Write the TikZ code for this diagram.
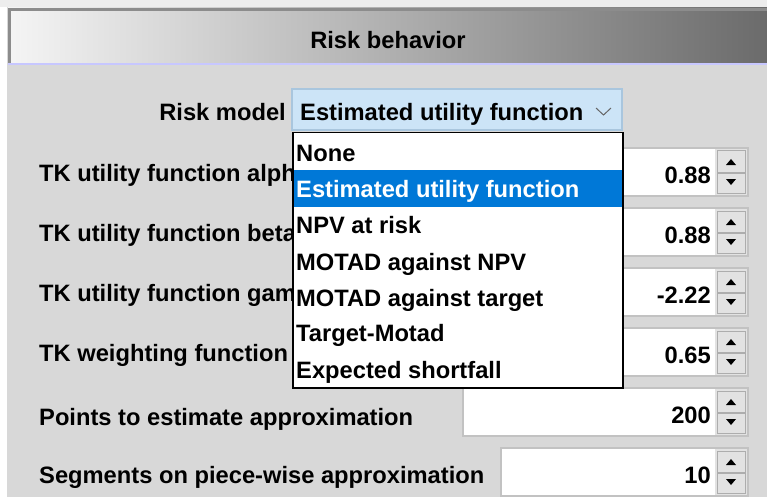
\documentclass[tikz,border=0pt]{standalone}
\usepackage{fontspec}
\setmainfont{Liberation Sans}
\usetikzlibrary{positioning}

\definecolor{panelgray}{HTML}{D8D8D8}
\definecolor{comboblue}{HTML}{CCE4F7}
\definecolor{comboedge}{HTML}{A9C6DE}
\definecolor{selblue}{HTML}{0078D7}
\definecolor{fieldedge}{HTML}{C2C2C2}
\definecolor{spingray}{HTML}{E2E2E2}
\definecolor{spinedge}{HTML}{ADADAD}
\newcommand{\uifont}{\fontsize{23.7}{28}\selectfont\bfseries}

\tikzset{
  lbl/.style={anchor=base west, inner sep=0pt, font=\uifont},
  num/.style={anchor=base east, inner sep=0pt, font=\uifont},
  item/.style={anchor=base west, inner sep=0pt, font=\uifont},
  fieldbox/.style={fill=white, draw=fieldedge, line width=1.5pt},
  spinbtn/.style={fill=spingray, draw=spinedge, line width=1pt},
}

\begin{document}
\begin{tikzpicture}[x=1pt,y=-1pt]
\useasboundingbox (0,0) rectangle (767,497);
% panel background
\fill[panelgray] (0,0) rectangle (767,497);
\fill[black!7] (0,0) rectangle (767,7);
\fill[white] (0,7) rectangle (7,497);
% header bar
\shade[left color=black!4, right color=black!58] (8,8) rectangle (767,64);
\draw[black!45, line width=3pt] (9.5,64) -- (9.5,9.5) -- (767,9.5);
\draw[blue!22, line width=2pt] (8,64) -- (767,64);
\node[anchor=base, inner sep=0pt, font=\uifont] (title) at (388,48.5) {Risk behavior};

% labels hidden behind the open list are cut at its left edge
\begin{scope}
\clip (0,140) rectangle (292,390);
\foreach \lab/\bl [count=\i] in {
    TK utility function alpha/181.5,
    TK utility function beta/241.5,
    TK utility function gamma/301.5,
    TK weighting function delta/361.5}
  \node[lbl] (lab\i) at (39,\bl) {\lab};
\end{scope}
\node[lbl] (lab5) at (39,425) {Points to estimate approximation};
\node[lbl] (lab6) at (39,483) {Segments on piece-wise approximation};

% spinner fields
\foreach \val/\yy/\xl [count=\i] in {
    0.88/148/463, 0.88/208/463, -2.22/268/463,
    0.65/328/463, 200/388/463, 10/448/501}
{
  \draw[fieldbox] (\xl,\yy) rectangle (748,\yy+48);
  \fill[spingray] (715,\yy+1) rectangle (747,\yy+47);
  \draw[spinbtn] (717,\yy+3) rectangle (745,\yy+24);
  \draw[spinbtn] (717,\yy+25) rectangle (745,\yy+45);
  \fill (726,\yy+17) -- (736,\yy+17) -- (731,\yy+11) -- cycle;
  \fill (726,\yy+31) -- (736,\yy+31) -- (731,\yy+37) -- cycle;
  \node[num] (val\i) at (711,\yy+35.5) {\val};
}

% risk model combo box
\node[anchor=base east, inner sep=0pt, font=\uifont] (model) at (286,120.5) {Risk model};
\draw[fill=comboblue, draw=comboedge, line width=1.5pt] (292,89) rectangle (622,130);
\node[item] (choice) at (300,120.5) {Estimated utility function};
\draw[black!60, line width=1pt] (596,108) -- (603.5,115) -- (611,108);

% open drop-down list
\draw[fill=white, draw=black, line width=1.5pt] (293,132.5) rectangle (623,388);
\fill[selblue] (294,170) rectangle (622,207);
\node[item] (opt1) at (296,161.5) {None};
\node[item, text=white] (opt2) at (296,197.5) {Estimated utility function};
\node[item] (opt3) at (296,233.5) {NPV at risk};
\node[item] (opt4) at (296,270) {MOTAD against NPV};
\node[item] (opt5) at (296,306) {MOTAD against target};
\node[item] (opt6) at (296,341.5) {Target-Motad};
\node[item] (opt7) at (296,378) {Expected shortfall};
\end{tikzpicture}
\end{document}
